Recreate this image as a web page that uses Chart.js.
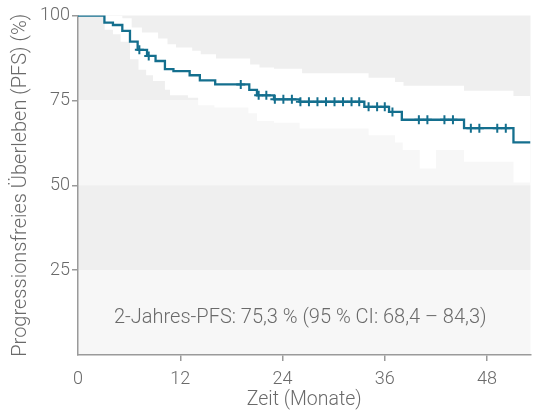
<!DOCTYPE html>
<html>
<head>
<meta charset="utf-8">
<script src="https://cdn.jsdelivr.net/npm/chart.js@4.4.1/dist/chart.umd.min.js"></script>
<style>
  html, body { margin: 0; padding: 0; background: #ffffff; }
  #wrap { width: 537px; height: 419px; }
</style>
</head>
<body>
<div id="wrap"><canvas id="pfs" width="537" height="419"></canvas></div>
<script>
// Axis ticks
const xTicks = [0, 12, 24, 36, 48];
const yTicks = [25, 50, 75, 100];

// Kaplan-Meier estimate: time in months, survival in %
const kmTimes    = [0, 3.1, 4.1, 5.2, 6.1, 7.0, 8.1, 9.1, 10.2, 11.2, 13.1, 14.3, 16.1, 20.1, 21.0, 23.0, 26.0, 33.6, 36.5, 38.0, 45.3, 51.1, 53.1];
const kmSurvival = [100, 97.9, 97.2, 95.5, 92.3, 89.9, 88.1, 86.6, 84.2, 83.6, 82.4, 80.9, 79.7, 78.1, 76.5, 75.3, 74.6, 73.1, 71.6, 69.3, 66.8, 62.6, 62.6];

// Censored observations
const censorTimes    = [7.2, 8.3, 19.1, 21.2, 22.1, 23.1, 24.1, 25.1, 26.1, 27.1, 28.1, 29.1, 30.1, 31.1, 32.1, 33.0, 34.1, 35.1, 36.0, 36.9, 40.0, 41.0, 43.0, 44.0, 46.1, 47.1, 49.2, 50.2];
const censorSurvival = [89.9, 88.1, 79.7, 76.5, 76.5, 75.3, 75.3, 75.3, 74.6, 74.6, 74.6, 74.6, 74.6, 74.6, 74.6, 74.6, 73.1, 73.1, 73.1, 71.6, 69.3, 69.3, 69.3, 69.3, 66.8, 66.8, 66.8, 66.8];

// 95 % confidence band
const ciUpperTimes = [3.1, 5.2, 6.3, 7.5, 9.4, 10.5, 11.5, 13.4, 14.4, 16.2, 20.2, 21.3, 23.0, 26.3, 34.1, 37.2, 38.2, 45.3, 51.1, 53.1];
const ciUpper      = [100, 99.2, 96.5, 95.0, 93.2, 91.5, 90.6, 89.6, 88.6, 87.3, 85.6, 84.7, 84.3, 83.0, 81.7, 80.4, 79.3, 77.8, 76.3, 76.3];
const ciLowerTimes = [3.1, 4.1, 5.0, 6.1, 7.1, 8.0, 8.8, 10.2, 10.8, 12.9, 14.1, 16.0, 20.0, 21.0, 23.0, 26.0, 34.1, 37.2, 38.1, 40.1, 42.0, 45.3, 51.1, 53.1];
const ciLower      = [95.8, 94.5, 92.3, 87.1, 84.0, 82.4, 80.7, 78.1, 76.5, 75.8, 73.6, 72.9, 71.2, 68.9, 68.4, 66.7, 64.7, 62.6, 60.4, 54.9, 60.4, 56.9, 50.8, 50.8];

const summaryText = '2-Jahres-PFS: 75,3 % (95 % CI: 68,4 – 84,3)';

const toPoints = (xs, ys) => xs.map((x, i) => ({ x: x, y: ys[i] }));

const TEXT = '#6a6a6a';
const AXIS = '#9a9a9a';
const CURVE = '#146f8e';
const FONT = "Roboto, 'Liberation Sans', sans-serif";
const WEIGHT = 300;

// Alternating horizontal stripes behind the plot
const stripes = {
  id: 'stripes',
  beforeDraw(chart) {
    const { ctx, chartArea: a, scales: { y } } = chart;
    const rows = [[75, 100, '#efefef'], [50, 75, '#f7f7f7'], [25, 50, '#efefef'], [0, 25, '#f7f7f7']];
    ctx.save();
    rows.forEach(([lo, hi, col]) => {
      const top = y.getPixelForValue(hi);
      const bot = y.getPixelForValue(lo);
      ctx.fillStyle = col;
      ctx.fillRect(a.left, top, a.right - a.left, bot - top);
    });
    ctx.restore();
  }
};

// Summary line inside the plot
const summary = {
  id: 'summary',
  afterDatasetsDraw(chart) {
    const { ctx, chartArea: a, scales: { y } } = chart;
    ctx.save();
    ctx.font = WEIGHT + ' 20px ' + FONT;
    ctx.fillStyle = TEXT;
    ctx.textAlign = 'center';
    ctx.textBaseline = 'middle';
    ctx.fillText(summaryText, (a.left + a.right) / 2 - 4, y.getPixelForValue(10.8));
    ctx.restore();
  }
};

new Chart(document.getElementById('pfs'), {
  type: 'line',
  data: {
    datasets: [
      {
        label: 'PFS',
        data: toPoints(kmTimes, kmSurvival),
        stepped: true,
        borderColor: CURVE,
        borderWidth: 2.3,
        pointRadius: 0,
        fill: false
      },
      {
        label: 'zensiert',
        data: toPoints(censorTimes, censorSurvival),
        showLine: false,
        pointStyle: 'cross',
        pointRadius: 4.5,
        pointBorderWidth: 2,
        pointBorderColor: CURVE,
        pointBackgroundColor: CURVE
      },
      {
        label: '95 % CI oben',
        data: toPoints(ciUpperTimes, ciUpper),
        stepped: true,
        borderColor: 'rgba(0,0,0,0)',
        borderWidth: 1,
        pointRadius: 0,
        backgroundColor: '#ffffff',
        fill: '+1'
      },
      {
        label: '95 % CI unten',
        data: toPoints(ciLowerTimes, ciLower),
        stepped: true,
        borderColor: 'rgba(0,0,0,0)',
        borderWidth: 1,
        pointRadius: 0,
        fill: false
      }
    ]
  },
  options: {
    responsive: false,
    animation: false,
    events: [],
    layout: { padding: { top: 15.5, right: 0, bottom: 0, left: 0 } },
    plugins: {
      legend: { display: false },
      tooltip: { enabled: false }
    },
    scales: {
      x: {
        type: 'linear',
        min: 0,
        max: 53.1,
        afterBuildTicks: s => { s.ticks = xTicks.map(v => ({ value: v })); },
        afterFit: s => { s.height = 64; },
        grid: {
          drawOnChartArea: false,
          drawTicks: true,
          tickLength: 6,
          lineWidth: 1.5,
          color: c => (c.tick && c.tick.value === 0) ? 'rgba(0,0,0,0)' : AXIS
        },
        border: { display: true, color: AXIS, width: 1.5 },
        ticks: {
          color: TEXT,
          font: { family: FONT, size: 18, weight: WEIGHT },
          padding: 8,
          maxRotation: 0,
          autoSkip: false
        },
        title: {
          display: true,
          text: 'Zeit (Monate)',
          color: TEXT,
          font: { family: FONT, size: 19.5, weight: WEIGHT },
          padding: { top: 0, bottom: 7 }
        }
      },
      y: {
        min: 0,
        max: 100,
        afterBuildTicks: s => { s.ticks = yTicks.map(v => ({ value: v })); },
        afterFit: s => { s.width = 78; },
        grid: {
          drawOnChartArea: false,
          drawTicks: true,
          tickLength: 6,
          lineWidth: 1.5,
          color: AXIS
        },
        border: { display: true, color: AXIS, width: 1.5 },
        ticks: {
          color: TEXT,
          font: { family: FONT, size: 18, weight: WEIGHT },
          padding: 2
        },
        title: {
          display: true,
          text: 'Progressionsfreies Überleben (PFS) (%)',
          color: TEXT,
          font: { family: FONT, size: 20, weight: WEIGHT },
          padding: { top: 9, bottom: 0 }
        }
      }
    }
  },
  plugins: [stripes, summary]
});
</script>
</body>
</html>
